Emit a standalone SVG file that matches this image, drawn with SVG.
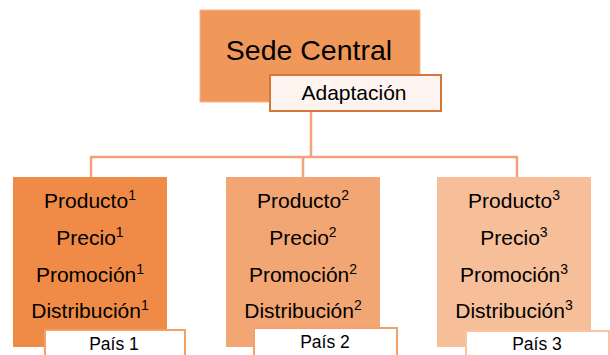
<svg xmlns="http://www.w3.org/2000/svg" width="610" height="355" viewBox="0 0 610 355">
<style>
text{font-family:"Liberation Sans",Arial,sans-serif;fill:#000}
.t{font-size:21px;text-anchor:middle}
.sup{font-size:14px}
.pais{font-size:17.5px;text-anchor:middle}
.conn{fill:none;stroke:#F4A27A;stroke-width:2.5}
</style>
<rect width="610" height="355" fill="#fff"/>
<g id="connectors">
<path class="conn" d="M311 111 V157 M91 157 H517 M91 156 V177 M303 157 V177 M517 156 V177"/>
</g>
<g id="sede">
<rect x="200" y="10" width="220" height="92" fill="#F0975A" stroke="#F6B88E" stroke-width="1"/>
<text x="309" y="60" font-size="28.5" text-anchor="middle">Sede Central</text>
</g>
<g id="adaptacion">
<rect x="270" y="75" width="171" height="36" fill="#FDF4EF" stroke="#D5763A" stroke-width="2"/>
<text x="354" y="100" font-size="21" text-anchor="middle">Adaptación</text>
</g>
<g id="pais1">
<rect x="13" y="177" width="154" height="170" fill="#EF8B47"/>
<text class="t" x="90" y="208">Producto<tspan class="sup" dy="-8">1</tspan></text>
<text class="t" x="90" y="245">Precio<tspan class="sup" dy="-8">1</tspan></text>
<text class="t" x="90" y="282">Promoción<tspan class="sup" dy="-8">1</tspan></text>
<text class="t" x="90" y="318">Distribución<tspan class="sup" dy="-8">1</tspan></text>
<rect x="45" y="330" width="140" height="30" fill="#fff" stroke="#F2A06C" stroke-width="2"/>
<text class="pais" x="114" y="350">País 1</text>
</g>
<g id="pais2">
<rect x="226" y="177" width="154" height="170" fill="#F2A673"/>
<text class="t" x="303" y="208">Producto<tspan class="sup" dy="-8">2</tspan></text>
<text class="t" x="303" y="245">Precio<tspan class="sup" dy="-8">2</tspan></text>
<text class="t" x="303" y="282">Promoción<tspan class="sup" dy="-8">2</tspan></text>
<text class="t" x="303" y="318">Distribución<tspan class="sup" dy="-8">2</tspan></text>
<rect x="254" y="328" width="143" height="30" fill="#fff" stroke="#F2A06C" stroke-width="2"/>
<text class="pais" x="325" y="348">País 2</text>
</g>
<g id="pais3">
<rect x="437" y="177" width="154" height="170" fill="#F6BE99"/>
<text class="t" x="514" y="208">Producto<tspan class="sup" dy="-8">3</tspan></text>
<text class="t" x="514" y="245">Precio<tspan class="sup" dy="-8">3</tspan></text>
<text class="t" x="514" y="282">Promoción<tspan class="sup" dy="-8">3</tspan></text>
<text class="t" x="514" y="318">Distribución<tspan class="sup" dy="-8">3</tspan></text>
<rect x="466" y="331" width="143" height="30" fill="#fff" stroke="#F8C3A0" stroke-width="2"/>
<text class="pais" x="537" y="350">País 3</text>
</g>
</svg>
